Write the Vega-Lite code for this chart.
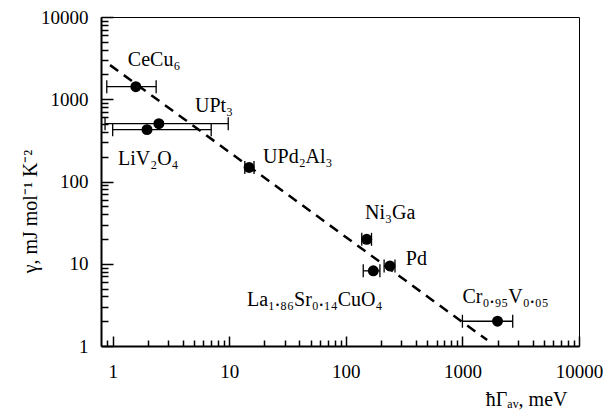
{
  "$schema": "https://vega.github.io/schema/vega-lite/v6.json",
  "width": 478,
  "height": 329,
  "autosize": {"type": "none"},
  "padding": {"left": 101, "top": 17, "right": 37, "bottom": 66},
  "background": "white",
  "config": {
    "font": "Liberation Serif",
    "view": {"stroke": "black", "strokeWidth": 1},
    "axis": {
      "domainColor": "black",
      "domainWidth": 2,
      "tickColor": "black",
      "tickWidth": 1.5,
      "grid": false,
      "labelFont": "Liberation Serif",
      "labelFontSize": 19,
      "labelColor": "black",
      "titleFont": "Liberation Serif",
      "titleFontSize": 20,
      "titleFontWeight": "normal",
      "titleColor": "black"
    }
  },
  "datasets": {
    "pts": [
      {"name": "CeCu₆", "x": 1.58, "y": 1420, "xlo": 0.89, "xhi": 2.36},
      {"name": "UPt₃", "x": 2.49, "y": 505, "xlo": 0.86, "xhi": 9.8},
      {"name": "LiV₂O₄", "x": 1.97, "y": 427, "xlo": 1.0, "xhi": 7.0},
      {"name": "UPd₂Al₃", "x": 14.8, "y": 148, "xlo": 13.6, "xhi": 16.3},
      {"name": "Ni₃Ga", "x": 151, "y": 19.8, "xlo": 137, "xhi": 166},
      {"name": "Pd", "x": 239, "y": 9.4, "xlo": 213, "xhi": 264},
      {"name": "La₁.₈₆Sr₀.₁₄CuO₄", "x": 172, "y": 8.2, "xlo": 141, "xhi": 196},
      {"name": "Cr₀.₉₅V₀.₀₅", "x": 2000, "y": 2.0, "xlo": 1000, "xhi": 2700}
    ],
    "labels": [
      {"text": "CeCu₆", "lx": 1.35, "ly": 2535},
      {"text": "UPt₃", "lx": 5.08, "ly": 700},
      {"text": "LiV₂O₄", "lx": 1.11, "ly": 159},
      {"text": "UPd₂Al₃", "lx": 19.5, "ly": 168},
      {"text": "Ni₃Ga", "lx": 146, "ly": 35},
      {"text": "Pd", "lx": 327, "ly": 9.66},
      {"text": "La₁.₈₆Sr₀.₁₄CuO₄", "lx": 14.2, "ly": 3.06},
      {"text": "Cr₀.₉₅V₀.₀₅", "lx": 1000, "ly": 3.33}
    ],
    "fit": [
      {"x": 0.95, "y": 2600},
      {"x": 1630, "y": 1.18}
    ]
  },
  "layer": [
    {
      "data": {"name": "fit"},
      "mark": {"type": "line", "color": "black", "strokeWidth": 2.5, "strokeDash": [10, 7], "clip": true},
      "encoding": {
        "x": {
          "field": "x", "type": "quantitative",
          "scale": {"type": "log", "domain": [0.794, 10000], "nice": false},
          "axis": {
            "title": "ħΓₐᵥ, meV",
            "titleFont": "Liberation Serif",
            "titleFontSize": 20,
            "titleFontWeight": "normal",
            "titleAnchor": "end",
            "titleAlign": "right",
            "titleBaseline": "alphabetic",
            "titleX": 466,
            "titleY": 59,
            "values": [0.9, 1, 2, 3, 4, 5, 6, 7, 8, 9, 10, 20, 30, 40, 50, 60, 70, 80, 90, 100, 200, 300, 400, 500, 600, 700, 800, 900, 1000, 2000, 3000, 4000, 5000, 6000, 7000, 8000, 9000, 10000],
            "labelExpr": "(datum.value==1||datum.value==10||datum.value==100||datum.value==1000||datum.value==10000) ? format(datum.value,'d') : ''",
            "labelFont": "Liberation Serif",
            "labelFontSize": 19,
            "tickSize": {"condition": {"test": "datum.value==1||datum.value==10||datum.value==100||datum.value==1000||datum.value==10000", "value": -10}, "value": -6},
            "labelPadding": 26,
            "labelFlush": false,
            "labelOverlap": false
          }
        },
        "y": {
          "field": "y", "type": "quantitative",
          "scale": {"type": "log", "domain": [1, 10000], "nice": false},
          "axis": {
            "title": "γ, mJ mol⁻¹ K⁻²",
            "titleFont": "Liberation Serif",
            "titleFontSize": 20,
            "titleFontWeight": "normal",
            "titleAngle": 270,
            "titleAlign": "center",
            "titleBaseline": "middle",
            "titleX": -71,
            "titleY": 194,
            "values": [1, 2, 3, 4, 5, 6, 7, 8, 9, 10, 20, 30, 40, 50, 60, 70, 80, 90, 100, 200, 300, 400, 500, 600, 700, 800, 900, 1000, 2000, 3000, 4000, 5000, 6000, 7000, 8000, 9000, 10000],
            "labelExpr": "(datum.value==1||datum.value==10||datum.value==100||datum.value==1000||datum.value==10000) ? format(datum.value,'d') : ''",
            "labelFont": "Liberation Serif",
            "labelFontSize": 19,
            "tickSize": {"condition": {"test": "datum.value==1||datum.value==10||datum.value==100||datum.value==1000||datum.value==10000", "value": -12}, "value": -7},
            "labelPadding": 25,
            "labelFlush": false,
            "labelOverlap": false
          }
        }
      }
    },
    {
      "data": {"name": "pts"},
      "mark": {"type": "rule", "color": "black", "strokeWidth": 1.3},
      "encoding": {
        "x": {"field": "xlo", "type": "quantitative"},
        "x2": {"field": "xhi"},
        "y": {"field": "y", "type": "quantitative"}
      }
    },
    {
      "data": {"name": "pts"},
      "mark": {"type": "tick", "orient": "vertical", "color": "black", "size": 13, "thickness": 1.3, "opacity": 1},
      "encoding": {
        "x": {"field": "xlo", "type": "quantitative"},
        "y": {"field": "y", "type": "quantitative"}
      }
    },
    {
      "data": {"name": "pts"},
      "mark": {"type": "tick", "orient": "vertical", "color": "black", "size": 13, "thickness": 1.3, "opacity": 1},
      "encoding": {
        "x": {"field": "xhi", "type": "quantitative"},
        "y": {"field": "y", "type": "quantitative"}
      }
    },
    {
      "data": {"name": "pts"},
      "mark": {"type": "point", "shape": "circle", "filled": true, "color": "black", "size": 120, "opacity": 1},
      "encoding": {
        "x": {"field": "x", "type": "quantitative"},
        "y": {"field": "y", "type": "quantitative"}
      }
    },
    {
      "data": {"name": "labels"},
      "mark": {"type": "text", "align": "left", "baseline": "alphabetic", "font": "Liberation Serif", "fontSize": 20, "color": "black"},
      "encoding": {
        "x": {"field": "lx", "type": "quantitative"},
        "y": {"field": "ly", "type": "quantitative"},
        "text": {"field": "text"}
      }
    }
  ]
}
